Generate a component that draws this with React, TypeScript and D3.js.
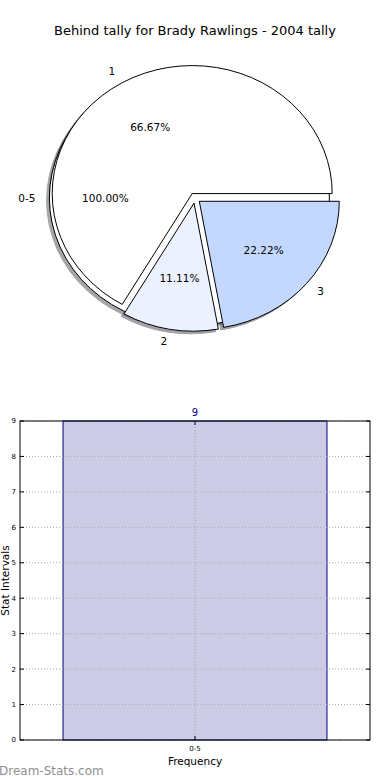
import * as d3 from "d3";

// pie: the first wedge is the whole tally, the rest wrap round again
const pieLabels = ["0-5", "1", "2", "3"];
const pieCounts = [9, 6, 1, 2];
const pieTotal = 9;
const pieColors = ["#ffffff", "#ffffff", "#ebf1ff", "#c4d8ff"];
const pieExplode = [0.04, 0.04, 0.04, 0.04];

// bar chart
const barCategories = ["0-5"];
const barValues = [9];
const yTicks = [0, 1, 2, 3, 4, 5, 6, 7, 8, 9];

const W = 390;
const H = 780;
const font = "'DejaVu Sans', sans-serif";

export default function App() {
  //// Pie geometry (matplotlib style, not equal aspect) ////
  const cx = 195;
  const cy = 198;
  const rx = 140;
  const ry = 128;
  const toRad = d3.scaleLinear().domain([0, pieTotal]).range([0, 2 * Math.PI]);
  const starts = [0, ...Array.from(d3.cumsum(pieCounts))];
  const arc = d3.arc<any>().innerRadius(0).outerRadius(1);

  const wedges = pieLabels.map((label, i) => {
    const t1 = toRad(starts[i]);
    const t2 = toRad(starts[i] + pieCounts[i]);
    const mid = (t1 + t2) / 2;
    const e = pieExplode[i];
    const ox = cx + e * rx * Math.cos(mid);
    const oy = cy - e * ry * Math.sin(mid);
    const d = arc({ startAngle: Math.PI / 2 - t1, endAngle: Math.PI / 2 - t2 }) as string;
    const lx = ox + 1.1 * rx * Math.cos(mid);
    const ly = oy - 1.1 * ry * Math.sin(mid);
    const px = ox + 0.6 * rx * Math.cos(mid);
    const py = oy - 0.6 * ry * Math.sin(mid);
    const c = d3.rgb(pieColors[i]);
    const shadow = d3.rgb(c.r * 0.3, c.g * 0.3, c.b * 0.3).toString();
    return {
      label,
      pct: ((pieCounts[i] / pieTotal) * 100).toFixed(2) + "%",
      d,
      ox,
      oy,
      lx,
      ly,
      px,
      py,
      anchor: Math.cos(mid) > 0 ? "start" : "end",
      fill: pieColors[i],
      shadow,
    };
  });

  //// Bar chart scales ////
  const left = 20;
  const right = 370;
  const top = 421;
  const bottom = 740;
  const x = d3
    .scaleBand<string>()
    .domain(barCategories)
    .range([left, right])
    .paddingInner(0)
    .paddingOuter(0.163);
  const y = d3.scaleLinear().domain([0, 9]).range([bottom, top]);
  const tick = 4;

  return (
    <svg
      width={W}
      height={H}
      style={{ position: "absolute", left: 0, top: 0, background: "#fff" }}
      fontFamily={font}
    >
      <text x={195} y={34.5} textAnchor="middle" fontSize={13}>
        Behind tally for Brady Rawlings - 2004 tally
      </text>

      {/* shadows sit under all wedges */}
      {wedges.map((w, i) => (
        <path
          key={"s" + i}
          d={w.d}
          transform={`translate(${w.ox - 0.02 * rx},${w.oy + 0.02 * ry}) scale(${rx},${ry})`}
          fill={w.shadow}
          stroke={w.shadow}
          strokeWidth={1}
          vectorEffect="non-scaling-stroke"
          opacity={0.5}
        />
      ))}
      {wedges.map((w, i) => (
        <path
          key={"w" + i}
          d={w.d}
          transform={`translate(${w.ox},${w.oy}) scale(${rx},${ry})`}
          fill={w.fill}
          stroke="#000"
          strokeWidth={1}
          strokeLinejoin="miter"
          vectorEffect="non-scaling-stroke"
        />
      ))}
      {wedges.map((w, i) => (
        <g key={"t" + i} fontSize={10.5}>
          <text x={w.lx} y={w.ly} dy="0.35em" textAnchor={w.anchor}>
            {w.label}
          </text>
          <text x={w.px} y={w.py} dy="0.35em" textAnchor="middle">
            {w.pct}
          </text>
        </g>
      ))}

      {/* bars */}
      {barCategories.map((c, i) => (
        <g key={c}>
          <rect
            x={x(c)}
            y={y(barValues[i])}
            width={x.bandwidth()}
            height={bottom - y(barValues[i])}
            fill="#ccccE6"
            stroke="#000080"
            strokeWidth={1}
          />
          <text
            x={(x(c) as number) + x.bandwidth() / 2}
            y={y(barValues[i]) - 5}
            textAnchor="middle"
            fontSize={10}
            fill="#000080"
          >
            {barValues[i]}
          </text>
        </g>
      ))}

      {/* grid */}
      {yTicks.map((t) => (
        <line
          key={"gy" + t}
          x1={left}
          x2={right}
          y1={y(t)}
          y2={y(t)}
          stroke="#a8a8a8"
          strokeWidth={1}
          strokeDasharray="1,2"
        />
      ))}
      {barCategories.map((c) => {
        const xc = (x(c) as number) + x.bandwidth() / 2;
        return (
          <line
            key={"gx" + c}
            x1={xc}
            x2={xc}
            y1={top}
            y2={bottom}
            stroke="#a8a8a8"
            strokeWidth={1}
            strokeDasharray="1,2"
          />
        );
      })}

      {/* ticks */}
      {yTicks.map((t) => (
        <g key={"ty" + t} stroke="#000" strokeWidth={1}>
          <line x1={left} x2={left + tick} y1={y(t)} y2={y(t)} />
          <line x1={right - tick} x2={right} y1={y(t)} y2={y(t)} />
        </g>
      ))}
      {yTicks.map((t) => (
        <text
          key={"ly" + t}
          x={16}
          y={y(t)}
          dy="0.35em"
          textAnchor="end"
          fontSize={7}
        >
          {t}
        </text>
      ))}
      {barCategories.map((c) => {
        const xc = (x(c) as number) + x.bandwidth() / 2;
        return (
          <g key={"tx" + c}>
            <line x1={xc} x2={xc} y1={bottom} y2={bottom - tick} stroke="#000" />
            <line x1={xc} x2={xc} y1={top} y2={top + tick} stroke="#000" />
            <text x={xc} y={751} textAnchor="middle" fontSize={7}>
              {c}
            </text>
          </g>
        );
      })}

      <rect
        x={left}
        y={top}
        width={right - left}
        height={bottom - top}
        fill="none"
        stroke="#000"
        strokeWidth={1}
      />

      <text x={195} y={765} textAnchor="middle" fontSize={10.5}>
        Frequency
      </text>
      <text
        transform={`translate(8.5,${(top + bottom) / 2}) rotate(-90)`}
        textAnchor="middle"
        fontSize={10.5}
      >
        Stat Intervals
      </text>
      <text x={-1} y={775} fontSize={12} fill="#8f8f8f">
        Dream-Stats.com
      </text>
    </svg>
  );
}
